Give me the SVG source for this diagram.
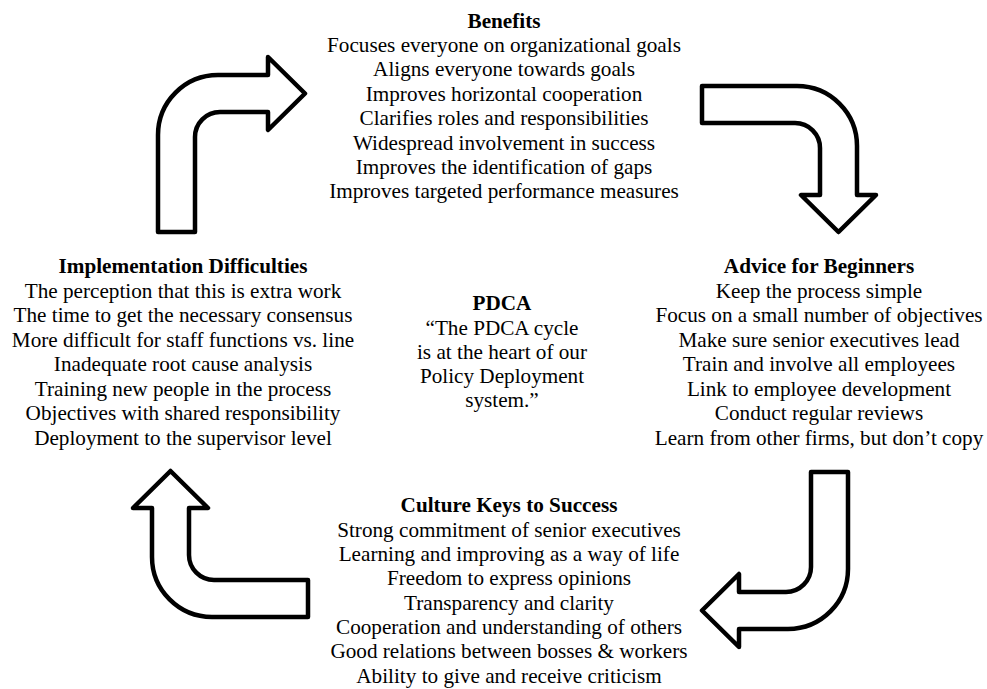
<svg xmlns="http://www.w3.org/2000/svg" width="987" height="689" viewBox="0 0 987 689" font-family="Liberation Serif, Times New Roman, serif">
<style>
text{font-size:21.2px;fill:#000;text-anchor:middle}
.h{font-weight:bold}
.arrow{fill:#fff;stroke:#000;stroke-width:4.5;stroke-linejoin:round}
</style>
<rect width="987" height="689" fill="#fff"/>
<g id="connectors">
<path id="arrow-up-right" class="arrow" d="M 158 232 L 158 135 A 60 60 0 0 1 218 75 L 268 75 L 268 57 L 305 93.5 L 268 130 L 268 112 L 220 112 A 25 25 0 0 0 195 137 L 195 232 Z"/>
<path id="arrow-right-down" class="arrow" d="M 702 86 L 797 86 A 60 60 0 0 1 857 146 L 857 195 L 876 195 L 838.5 232 L 801 195 L 820 195 L 820 148 A 25 25 0 0 0 795 123 L 702 123 Z"/>
<path id="arrow-down-left" class="arrow" d="M 848 472 L 848 569 A 60 60 0 0 1 788 629 L 739 629 L 739 647 L 702 610.5 L 739 574 L 739 592 L 786 592 A 25 25 0 0 0 811 567 L 811 472 Z"/>
<path id="arrow-left-up" class="arrow" d="M 308 617 L 212 617 A 60 60 0 0 1 152 557 L 152 508 L 133 508 L 170.5 471 L 208 508 L 189 508 L 189 555 A 25 25 0 0 0 214 580 L 308 580 Z"/>
</g>
<g id="benefits">
<text class="h" x="504" y="28">Benefits</text>
<text x="504" y="52">Focuses everyone on organizational goals</text>
<text x="504" y="76.4">Aligns everyone towards goals</text>
<text x="504" y="100.8">Improves horizontal cooperation</text>
<text x="504" y="125.2">Clarifies roles and responsibilities</text>
<text x="504" y="149.6">Widespread involvement in success</text>
<text x="504" y="174">Improves the identification of gaps</text>
<text x="504" y="198.4">Improves targeted performance measures</text>
</g>
<g id="implementation-difficulties">
<text class="h" x="183" y="273">Implementation Difficulties</text>
<text x="183" y="297.5">The perception that this is extra work</text>
<text x="183" y="322">The time to get the necessary consensus</text>
<text x="183" y="346.5">More difficult for staff functions vs. line</text>
<text x="183" y="371">Inadequate root cause analysis</text>
<text x="183" y="395.5">Training new people in the process</text>
<text x="183" y="420">Objectives with shared responsibility</text>
<text x="183" y="444.5">Deployment to the supervisor level</text>
</g>
<g id="pdca">
<text class="h" x="502" y="310">PDCA</text>
<text x="502" y="335">“The PDCA cycle</text>
<text x="502" y="359">is at the heart of our</text>
<text x="502" y="383">Policy Deployment</text>
<text x="502" y="407">system.”</text>
</g>
<g id="advice-for-beginners">
<text class="h" x="819" y="273">Advice for Beginners</text>
<text x="819" y="297.5">Keep the process simple</text>
<text x="819" y="322">Focus on a small number of objectives</text>
<text x="819" y="346.5">Make sure senior executives lead</text>
<text x="819" y="371">Train and involve all employees</text>
<text x="819" y="395.5">Link to employee development</text>
<text x="819" y="420">Conduct regular reviews</text>
<text x="819" y="444.5">Learn from other firms, but don’t copy</text>
</g>
<g id="culture-keys">
<text class="h" x="509" y="512">Culture Keys to Success</text>
<text x="509" y="536.5">Strong commitment of senior executives</text>
<text x="509" y="561">Learning and improving as a way of life</text>
<text x="509" y="585.3">Freedom to express opinions</text>
<text x="509" y="609.6">Transparency and clarity</text>
<text x="509" y="634">Cooperation and understanding of others</text>
<text x="509" y="658.4">Good relations between bosses &amp; workers</text>
<text x="509" y="682.8">Ability to give and receive criticism</text>
</g>
</svg>
